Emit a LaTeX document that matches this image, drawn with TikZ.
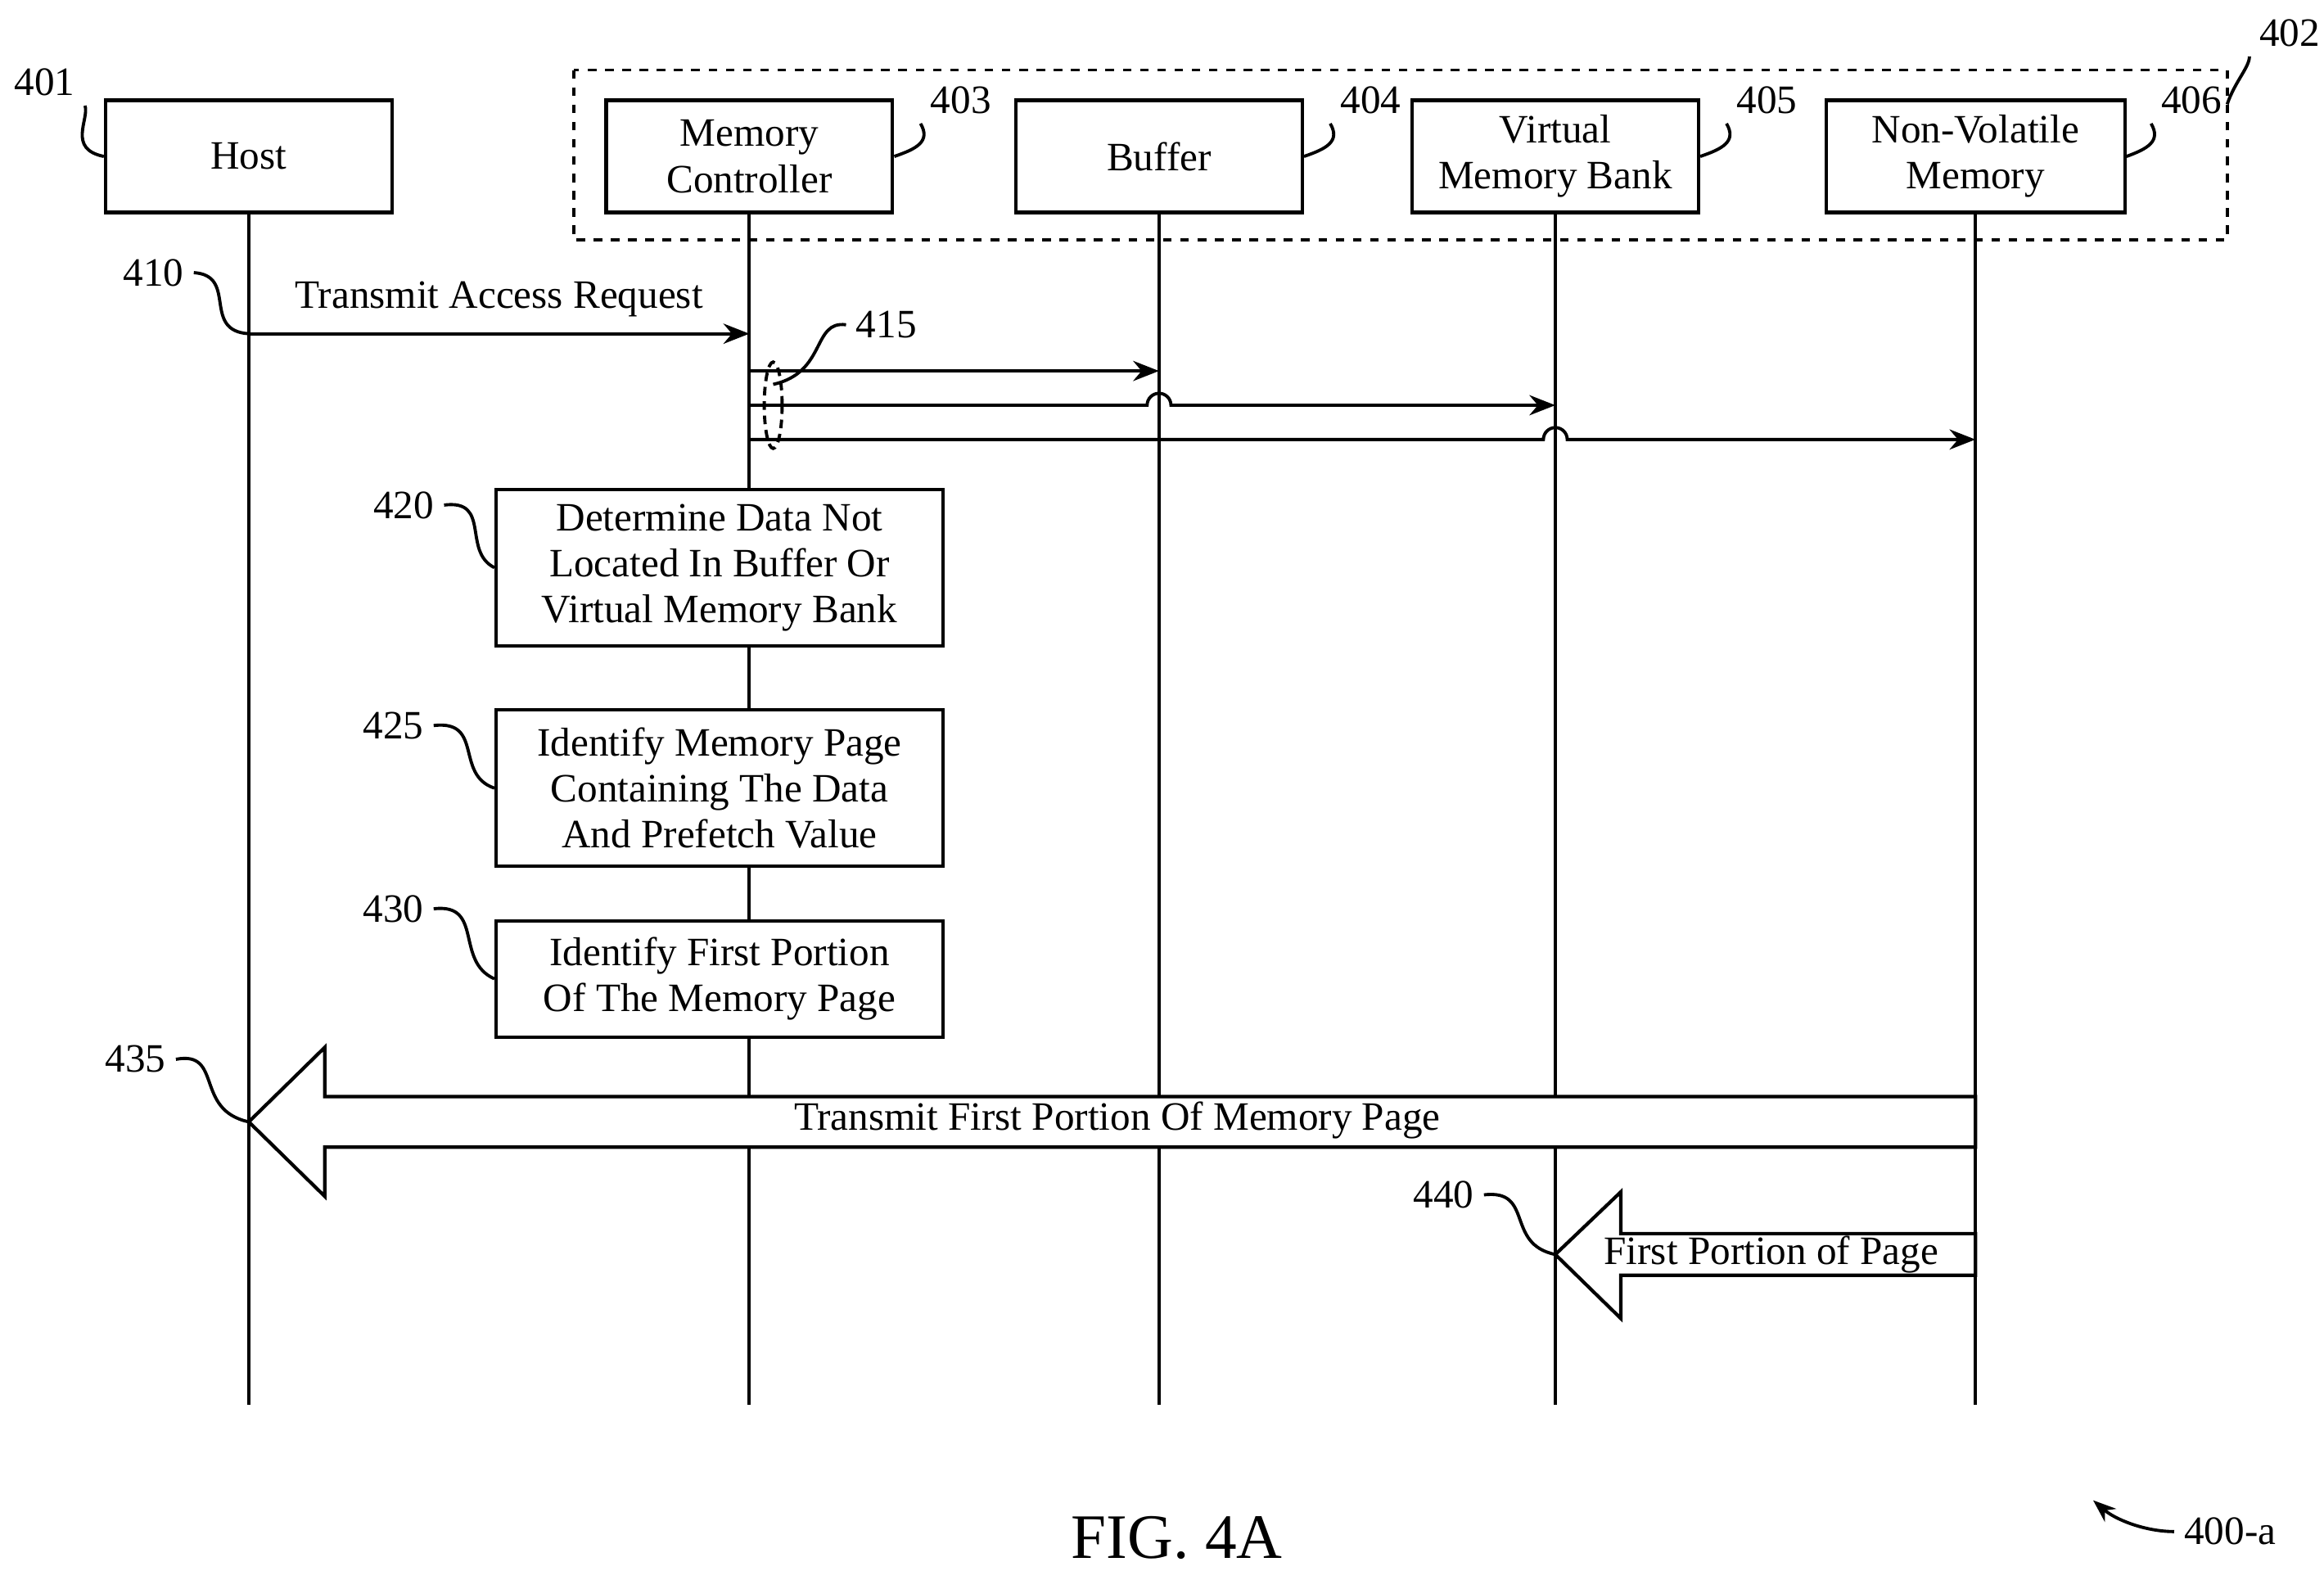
\documentclass[tikz,border=0pt]{standalone}
\usepackage{fontspec}
\setmainfont{Liberation Serif}
\usetikzlibrary{arrows.meta, positioning}
\tikzset{
  unit/.style={draw, line width=1.2pt, fill=white, minimum width=3.5cm, minimum height=1.37cm, align=center, font=\fontsize{14}{16}\selectfont},
  action/.style={draw, line width=1.2pt, fill=white, minimum width=5.46cm, align=center, font=\fontsize{14}{16}\selectfont},
  life/.style={line width=1.1pt},
  msg/.style={line width=1.1pt, -{Stealth[length=9pt,width=7pt]}},
  lead/.style={line width=1.1pt},
  num/.style={font=\fontsize{14}{16}\selectfont},
}
\begin{document}
\begin{tikzpicture}[x=0.0182cm, y=-0.0182cm]
  \useasboundingbox (0,0) rectangle (1560,1054);
  % units
  \node[unit] (host) at (167,105) {Host};
  \node[unit] (mc)   at (503,105) {Memory\\Controller};
  \node[unit] (buf)  at (778,105) {Buffer};
  \node[unit] (vmb)  at (1044,105) {Virtual\\Memory Bank};
  \node[unit, minimum width=3.65cm] (nvm) at (1326,105) {Non-Volatile\\Memory};
  \draw[line width=1.1pt, dashed] (385,47) rectangle (1495,161);
  % lifelines
  \foreach \n/\x in {host/167, mc/503, buf/778, vmb/1044, nvm/1326} {
    \coordinate (\n-end) at (\x,943);
    \draw[life] (\n) -- (\n-end);
  }
  % unit labels
  \node[num] (l401) at (30,55) {401};
  \draw[lead] (l401.south east) .. controls (60,80) and (45,100) .. (host.west);
  \node[num] (l403) at (645,67) {403};
  \draw[lead] (l403.south west) .. controls (625,95) and (615,100) .. (mc.east);
  \node[num] (l404) at (920,67) {404};
  \draw[lead] (l404.south west) .. controls (900,95) and (890,100) .. (buf.east);
  \node[num] (l405) at (1186,67) {405};
  \draw[lead] (l405.south west) .. controls (1166,95) and (1156,100) .. (vmb.east);
  \node[num] (l406) at (1471,67) {406};
  \draw[lead] (l406.south west) .. controls (1451,95) and (1441,100) .. (nvm.east);
  \node[num] (l402) at (1537,22) {402};
  \draw[lead] (l402.south west) .. controls (1510,45) and (1500,55) .. (1495,70);
  % 410
  \coordinate (h410) at (167,224);
  \coordinate (m410) at (503,224);
  \draw[msg] (h410) -- node[above, num, yshift=2pt] {Transmit Access Request} (m410);
  \node[num] (l410) at (103,183) {410};
  \draw[lead] (l410.east) .. controls (160,185) and (135,222) .. (h410);
  % 415
  \coordinate (m1) at (503,249); \coordinate (b1) at (778,249);
  \coordinate (m2) at (503,272); \coordinate (v2) at (1044,272);
  \coordinate (m3) at (503,295); \coordinate (n3) at (1326,295);
  \draw[msg] (m1) -- (b1);
  \draw[msg] (m2) -- (770,272) arc[start angle=180, end angle=360, radius=8] -- (v2);
  \draw[msg] (m3) -- (1036,295) arc[start angle=180, end angle=360, radius=8] -- (n3);
  \draw[line width=1.1pt, densely dashed] (519,272) ellipse[x radius=6, y radius=29];
  \node[num] (l415) at (595,218) {415};
  \draw[lead] (l415.west) .. controls (545,215) and (555,250) .. (519,258);
  % actions
  \node[action, minimum height=1.91cm] (s420) at (483,381) {Determine Data Not\\Located In Buffer Or\\Virtual Memory Bank};
  \node[action, minimum height=1.91cm] (s425) at (483,529) {Identify Memory Page\\Containing The Data\\And Prefetch Value};
  \node[action, minimum height=1.42cm] (s430) at (483,657) {Identify First Portion\\Of The Memory Page};
  \node[num] (l420) at (271,339) {420};
  \draw[lead] (l420.east) .. controls (330,335) and (310,370) .. (s420.west);
  \node[num] (l425) at (264,487) {425};
  \draw[lead] (l425.east) .. controls (325,483) and (305,520) .. (s425.west);
  \node[num] (l430) at (264,610) {430};
  \draw[lead] (l430.east) .. controls (325,606) and (305,645) .. (s430.west);
  % 435
  \coordinate (h435) at (167,753);
  \draw[line width=1.2pt, fill=white] (1326,736) -- (218,736) -- (218,703) -- (h435) -- (218,803) -- (218,770) -- (1326,770) -- cycle;
  \node[num] (t435) at (750,752) {Transmit First Portion Of Memory Page};
  \node[num] (l435) at (91,711) {435};
  \draw[lead] (l435.east) .. controls (150,705) and (130,745) .. (h435);
  % 440
  \coordinate (v440) at (1044,842);
  \draw[line width=1.2pt, fill=white] (1326,828) -- (1088,828) -- (1088,800) -- (v440) -- (1088,885) -- (1088,856) -- (1326,856) -- cycle;
  \node[num] (t440) at (1189,842) {First Portion of Page};
  \node[num] (l440) at (969,802) {440};
  \draw[lead] (l440.east) .. controls (1030,798) and (1010,835) .. (v440);
  % caption
  \node[font=\fontsize{22}{26}\selectfont] (fig) at (790,1032) {FIG. 4A};
  \node[num] (l400) at (1497,1028) {400-a};
  \coordinate (a400) at (1405,1007);
  \draw[line width=1.1pt, -{Stealth[length=8pt]}] (l400.west) .. controls (1440,1028) and (1420,1020) .. (a400);
\end{tikzpicture}
\end{document}
